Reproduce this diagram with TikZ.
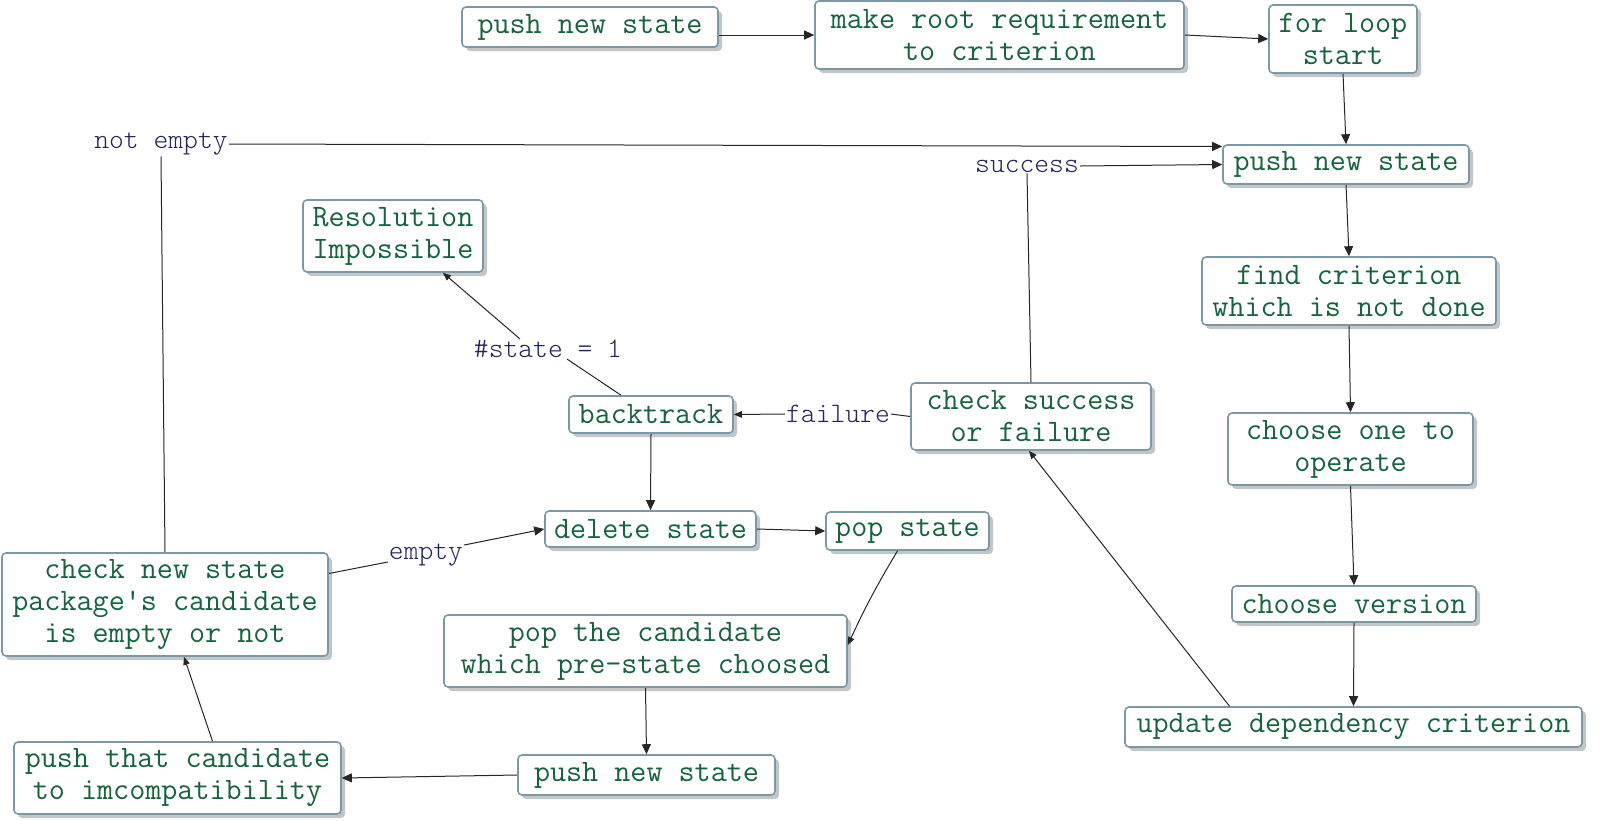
\documentclass[tikz,border=0pt]{standalone}
\usepackage{tikz}
\usetikzlibrary{arrows.meta,shadows}
\usepackage{amsmath,amsfonts,amssymb}

\definecolor{stepgreen}{RGB}{22,100,62}
\definecolor{edgenavy}{RGB}{35,35,95}
\definecolor{boxedge}{RGB}{125,152,165}
\definecolor{boxshade}{RGB}{192,198,202}

\begin{document}
\begin{tikzpicture}[x=1pt, y=-1pt,
    stepbox/.style = {draw=boxedge, line width=1.6pt, rounded corners=4pt,
        fill=white, text=stepgreen, align=center, inner sep=3pt,
        font=\fontsize{31.2}{32}\selectfont\ttfamily,
        drop shadow={shadow xshift=4pt, shadow yshift=-4pt, fill=boxshade, opacity=1}},
    cond/.style = {text=edgenavy, inner sep=1pt,
        font=\fontsize{28.2}{30}\selectfont\ttfamily\fontseries{l}\selectfont},
    link/.style = {line width=1pt, black!85},
    flow/.style = {link, -{Triangle[length=10pt, width=9pt]}},
    flows/.style = {link, -{Triangle[length=8pt, width=6.5pt]}}]
\useasboundingbox (0,0) rectangle (1600,820);

\node[stepbox, minimum width=256, minimum height=40] (push1) at (590,27) {push new state};
\node[stepbox, minimum width=369, minimum height=68] (root) at (999.5,35) {make root requirement\\to criterion};
\node[stepbox, minimum width=148, minimum height=68] (forloop) at (1343,39) {for loop\\start};
\node[stepbox, minimum width=246, minimum height=39] (push2) at (1346,164.5) {push new state};
\node[stepbox, minimum width=294, minimum height=68] (find) at (1349,291) {find criterion\\which is not done};
\node[stepbox, minimum width=245, minimum height=72] (chooseone) at (1350.5,449) {choose one to\\operate};
\node[stepbox, minimum width=244, minimum height=36] (choosever) at (1354,604) {choose version};
\node[stepbox, minimum width=457, minimum height=40] (update) at (1353.5,727) {update dependency criterion};
\node[stepbox, minimum width=240, minimum height=67] (check) at (1031,416.5) {check success\\or failure};
\node[stepbox, minimum width=164, minimum height=37] (backtrack) at (651,414.5) {backtrack};
\node[stepbox, minimum width=180, minimum height=72] (resol) at (393,236) {Resolution\\Impossible};
\node[stepbox, minimum width=211, minimum height=36] (delete) at (650.5,529) {delete state};
\node[stepbox, minimum width=163, minimum height=38] (pop) at (907.5,531) {pop state};
\node[stepbox, minimum width=403, minimum height=72] (popcand) at (645.5,651) {pop the candidate\\which pre-state choosed};
\node[stepbox, minimum width=257, minimum height=40] (push3) at (646.5,775) {push new state};
\node[stepbox, minimum width=327, minimum height=72] (pushthat) at (177.5,778) {push that candidate\\to imcompatibility};
\node[stepbox, minimum width=326, minimum height=103] (checknew) at (165,604.5) {check new state\\package\textquotesingle s candidate\\is empty or not};

\node[cond] (notempty) at (161,144) {not empty};
\node[cond] (success) at (1027,166) {success};
\node[cond] (failure) at (838,414) {failure};
\node[cond] (onestate) at (548,349) {\#state = 1};
\node[cond] (empty) at (426,555) {empty};

\draw[flow] (push1.east |- root.west) -- (root.west);
\draw[flow] (root.east) -- (forloop.west);
\draw[flow] (forloop.south) -- (push2.north);
\draw[flow] (push2.south) -- (find.north);
\draw[flow] (find.south) -- (chooseone.north);
\draw[flow] (chooseone.south) -- (choosever.north);
\draw[flow] (choosever.south) -- (update.north);
\draw[flows] ([xshift=-124pt]update.north) -- ([xshift=-2pt]check.south);

\draw[link] (check.north) -- (success.south);
\draw[flow] (success.east) -- (push2.west);
\draw[link] (check.west) -- (failure.east);
\draw[flows] (failure.west) -- (backtrack.east);
\draw[link] ([xshift=-30pt]backtrack.north) -- ([xshift=19pt]onestate.south);
\draw[flows] ([xshift=-28pt]onestate.north) -- ([xshift=50pt]resol.south);

\draw[flow] (backtrack.south) -- (delete.north);
\draw[flow] (delete.east) -- (pop.west);
\draw[flows] ([xshift=-10pt]pop.south) to[bend right=3] ([yshift=6pt]popcand.east);
\draw[flow] (popcand.south) -- (push3.north);
\draw[flow] (push3.west) -- (pushthat.east);
\draw[flows] ([xshift=35pt]pushthat.north) -- ([xshift=19pt]checknew.south);

\draw[link] ([yshift=31pt]checknew.east) -- ([yshift=-7pt]empty.west);
\draw[flow] ([yshift=10pt]empty.east) -- (delete.west);
\draw[link] (checknew.north) -- (notempty.south);
\draw[flow] (notempty.east) -- ([yshift=18pt]push2.west);
\end{tikzpicture}
\end{document}
